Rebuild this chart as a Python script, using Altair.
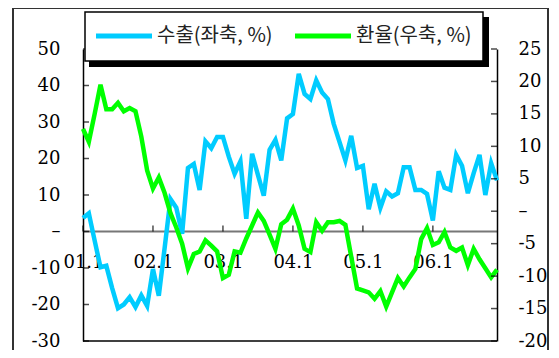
import altair as alt
import pandas as pd

months = list(range(72))
export = [3.7, 5.0, -2.5, -9.8, -9.4, -15.5, -21.0, -20.0, -18.0, -20.7, -17.5, -20.4,
          -10.3, -17.6, -4.5, 8.9, 6.5, -0.6, 17.4, 18.5, 11.4, 24.7, 22.8, 25.9,
          25.9, 20.5, 15.8, 19.2, 3.5, 21.3, 15.5, 9.8, 22.4, 25.1, 19.5, 31.0,
          32.2, 43.2, 37.7, 36.3, 41.4, 38.1, 36.3, 29.5, 24.5, 19.5, 26.2, 17.4,
          18.0, 6.1, 13.1, 6.5, 11.0, 9.6, 10.5, 17.6, 17.6, 11.4, 11.4, 10.3,
          3.0, 16.5, 12.0, 11.4, 21.0, 18.0, 10.5, 16.0, 21.0, 10.0, 18.7, 14.0]
fx = [12.7, 10.7, 15.0, 19.5, 15.7, 15.7, 16.7, 15.4, 15.9, 15.4, 11.5, 6.3,
      3.5, 5.2, 2.8, -0.3, -2.5, -5.0, -8.8, -6.6, -6.2, -4.5, -5.3, -6.2,
      -10.3, -9.8, -6.2, -6.4, -4.2, -2.2, -0.2, -1.5, -3.6, -5.8, -2.0, -1.3,
      0.4, -2.2, -5.8, -6.3, -1.7, -3.0, -1.7, -1.7, -1.5, -2.1, -7.0, -11.9,
      -12.2, -12.5, -13.5, -12.3, -14.7, -12.5, -10.3, -11.6, -10.2, -8.9, -4.3, -2.6,
      -5.2, -4.8, -3.2, -5.6, -6.1, -5.6, -8.3, -5.8, -7.4, -8.8, -10.2, -9.0]
tick_months = [0, 12, 24, 36, 48, 60]
tick_labels = ["01.1", "02.1", "03.1", "04.1", "05.1", "06.1"]
left_ticks = [-30, -20, -10, 0, 10, 20, 30, 40, 50]
right_ticks = [-20, -15, -10, -5, 0, 5, 10, 15, 20, 25]
series_names = ["수출(좌축, %)", "환율(우축, %)"]
series_colors = ["#00CCFF", "#00FF00"]

W, H = 414, 292
NUM_FONT = "DejaVu Serif"
NUM_SIZE = 18

df_e = pd.DataFrame({"m": months, "v": export, "s": series_names[0]})
df_f = pd.DataFrame({"m": months, "v": fx, "s": series_names[1]})
df_xt = pd.DataFrame({"m": tick_months, "v": [0] * len(tick_months)})
df_lt = pd.DataFrame({"v": left_ticks})
df_rt = pd.DataFrame({"v": right_ticks})
one = pd.DataFrame({"a": [0]})

x_label_expr = " : ".join(
    f"datum.value == {m} ? '{l}'" for m, l in zip(tick_months, tick_labels)
) + " : ''"

xscale = alt.Scale(domain=[0, 71], nice=False, zero=False)
lscale = alt.Scale(domain=[-30, 50], nice=False, zero=False)
rscale = alt.Scale(domain=[-20, 25], nice=False, zero=False)
cscale = alt.Scale(domain=series_names, range=series_colors)

xaxis = alt.Axis(
    values=tick_months, labelExpr=x_label_expr, title=None, offset=-110,
    grid=False, ticks=False, tickSize=0, domainColor="#777777", domainWidth=2,
    labelFont=NUM_FONT, labelFontSize=NUM_SIZE, labelColor="black", labelPadding=22,
    labelOverlap=False, labelFlush=False,
)
laxis = alt.Axis(
    values=left_ticks, orient="left", title=None, grid=False, ticks=False, tickSize=0,
    labelPadding=23, domainColor="black", domainWidth=1.5, labelFont=NUM_FONT,
    labelFontSize=NUM_SIZE, labelColor="black", labelOverlap=False, labelFlush=False,
    labelExpr="datum.value == 0 ? '–' : replace(datum.label, '−', '-')",
)
raxis = alt.Axis(
    values=right_ticks, orient="right", title=None, grid=False, ticks=False, tickSize=0,
    labelPadding=21, labelAlign="left", domainColor="black", domainWidth=1.5,
    labelFont=NUM_FONT, labelFontSize=NUM_SIZE, labelColor="black", labelOverlap=False,
    labelFlush=False,
    labelExpr="datum.value == 0 ? '\u00a0–' : datum.value > 0 ? '\u00a0' + datum.label : replace(datum.label, '−', '-')",
)

X = alt.X("m:Q", scale=xscale, axis=xaxis)
YL = alt.Y("v:Q", scale=lscale, axis=laxis)
YR = alt.Y("v:Q", scale=rscale, axis=raxis)

# decorations: outer frame, bottom border, legend box with shadow
frame = alt.Chart(one).mark_rect(filled=False, stroke="#333333", strokeWidth=2).encode(
    x=alt.value(-70), x2=alt.value(465), y=alt.value(-41), y2=alt.value(330)
)
bottom = alt.Chart(one).mark_rule(color="black", strokeWidth=1.5).encode(
    x=alt.value(0), x2=alt.value(W), y=alt.value(H)
)
shadow = alt.Chart(one).mark_rect(color="black").encode(
    x=alt.value(6), x2=alt.value(406), y=alt.value(-32), y2=alt.value(18)
)
box = alt.Chart(one).mark_rect(fill="white", stroke="black", strokeWidth=1.5).encode(
    x=alt.value(2), x2=alt.value(400), y=alt.value(-37), y2=alt.value(12)
)
leg_items = []
for i, (nm, col) in enumerate(zip(series_names, series_colors)):
    x0 = 13 + i * 199
    leg_items.append(
        alt.Chart(one).mark_rule(color=col, strokeWidth=5).encode(
            x=alt.value(x0), x2=alt.value(x0 + 56), y=alt.value(-13)
        )
    )
    leg_items.append(
        alt.Chart(one).mark_text(
            align="left", baseline="middle", font="Noto Sans CJK KR", fontSize=20,
            color="#222222",
        ).encode(x=alt.value(x0 + 61), y=alt.value(-13), text=alt.value(nm))
    )

blue = alt.Chart(df_e).mark_line(strokeWidth=4.5).encode(
    x=X, y=YL, color=alt.Color("s:N", scale=cscale, legend=None),
)
xticks = alt.Chart(df_xt).mark_tick(orient="vertical", size=6, thickness=1.5, color="black", yOffset=-3).encode(
    x=X, y=YL
)
lticks = alt.Chart(df_lt).mark_tick(orient="horizontal", size=6, thickness=1.5, color="black").encode(
    x=alt.value(3), y=YL
)
green = alt.Chart(df_f).mark_line(strokeWidth=4.5).encode(
    x=X, y=YR, color=alt.Color("s:N", scale=cscale, legend=None),
)
rticks = alt.Chart(df_rt).mark_tick(orient="horizontal", size=6, thickness=1.5, color="black").encode(
    x=alt.value(W - 3), y=YR
)

left = alt.layer(frame, bottom, blue, xticks, lticks)
right = alt.layer(green, rticks, shadow, box, *leg_items)

chart = alt.layer(left, right).resolve_scale(y="independent").properties(
    width=W, height=H,
    padding={"left": 75, "top": 41, "right": 54, "bottom": 9},
    autosize=alt.AutoSizeParams(type="none"),
    background="white",
).configure_view(stroke=None).configure_axis(labelOverlap=False)

chart.save("out.html", embed_options={"renderer": "svg", "actions": False})
